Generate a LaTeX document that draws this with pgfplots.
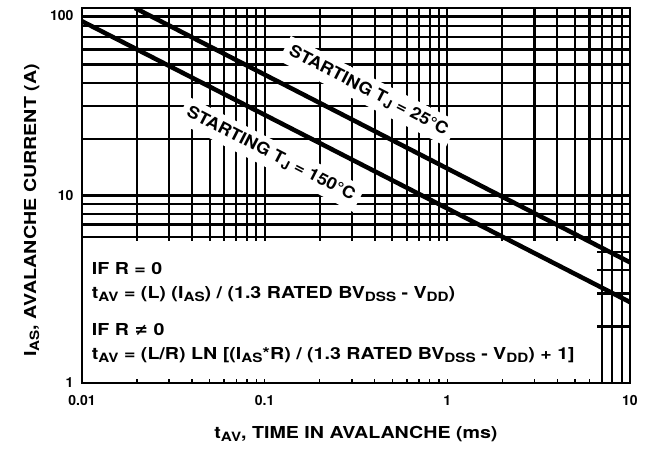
\documentclass[border=0pt]{standalone}
\usepackage{fontspec}
\setmainfont{TeX Gyre Heros}
\newfontfamily\widefont[FakeStretch=1.1]{TeX Gyre Heros}
\newfontfamily\widerfont[FakeStretch=1.19]{TeX Gyre Heros}
\newfontfamily\dejavu{DejaVu Sans}
\usepackage{pgfplots}
\pgfplotsset{compat=1.18}
\pgfdeclarelayer{whiteout}
\pgfdeclarelayer{whiteout2}
% standard layer set, with white layers below and above the ticks
\pgfplotsset{
  layers/withwhite/.define layer set={axis background,axis grid,whiteout,axis ticks,whiteout2,axis lines,axis tick labels,main,axis descriptions,axis foreground}{
    grid style={/pgfplots/on layer=axis grid},
    tick style={/pgfplots/on layer=axis ticks},
    axis line style={/pgfplots/on layer=axis lines},
    label style={/pgfplots/on layer=axis descriptions},
    legend style={/pgfplots/on layer=axis descriptions},
    title style={/pgfplots/on layer=axis descriptions},
    colorbar style={/pgfplots/on layer=axis descriptions},
    ticklabel style={/pgfplots/on layer=axis tick labels},
    axis background@ style={/pgfplots/on layer=axis background},
    3d box foreground style={/pgfplots/on layer=axis foreground},
  },
}
\newcommand{\sub}[1]{\raisebox{-0.35ex}{\fontsize{12.8}{12.8}\selectfont #1}}
\newcommand{\tfont}{\fontsize{14}{14}\selectfont\bfseries}
\newcommand{\lfont}{\widefont\fontsize{16.5}{16.5}\selectfont\bfseries}
\newcommand{\nfont}{\widerfont\fontsize{16.5}{16.5}\selectfont\bfseries}

\begin{document}
\begin{tikzpicture}
\begin{axis}[
  set layers=withwhite,
  width=548pt, height=375pt, scale only axis,
  xmode=log, ymode=log,
  xmin=0.01, xmax=10, ymin=1, ymax=100,
  xtick={0.01,0.1,1,10}, xticklabels={0.01,0.1,1,10},
  ytick={1,10,100}, yticklabels={1,10,\raisebox{-12pt}[0pt][0pt]{100}},
  minor xtick={0.02,0.03,0.04,0.05,0.06,0.07,0.08,0.09,0.2,0.3,0.4,0.5,0.6,0.7,0.8,0.9,2,3,4,5,6,7,8,9},
  minor ytick={2,3,4,5,6,7,8,9,20,30,40,50,60,70,80,90},
  grid=both,
  grid style={black, line width=2.2pt},
  axis line style={black, line width=2.4pt},
  tick style={black, line width=1.5pt},
  major tick length=4pt, minor tick length=4pt,
  tick pos=left,
  /pgf/number format/assume math mode=true,
  ticklabel style={font=\tfont},
  xticklabel style={yshift=-9pt},
  yticklabel style={xshift=-5pt},
  label style={font=\nfont},
  xlabel={t\sub{AV}, TIME IN AVALANCHE (ms)},
  ylabel={I\sub{AS}, AVALANCHE CURRENT (A)},
  xlabel style={at={(axis description cs:0.5,-0.135)}, anchor=center},
  ylabel style={at={(axis description cs:-0.092,0.46)}, anchor=center},
]
\begin{pgfonlayer}{whiteout}
  \fill[white] (axis cs:0.01,1) rectangle (axis cs:6.6,5.75);
  \node[fill=white, rotate=-27.2, inner sep=6pt, font=\lfont] at (axis cs:0.37,36)
    {STARTING T\sub{J} = 25°C};
  \node[fill=white, rotate=-27.2, inner sep=6pt, font=\lfont] at (axis cs:0.108,16.6)
    {STARTING T\sub{J} = 150°C};
  \node[anchor=base west, inner sep=0pt, font=\nfont] at (axis cs:0.0113,3.77) {IF R = 0};
  \node[anchor=base west, inner sep=0pt, font=\nfont] at (axis cs:0.0113,2.84)
    {t\sub{AV} = (L) (I\sub{AS}) / (1.3 RATED BV\sub{DSS} - V\sub{DD})};
  \node[anchor=base west, inner sep=0pt, font=\nfont] at (axis cs:0.0113,1.80)
    {IF R {\dejavu\bfseries ≠} 0};
  \node[anchor=base west, inner sep=0pt, font=\nfont] at (axis cs:0.0113,1.33)
    {t\sub{AV} = (L/R) LN [(I\sub{AS}*R) / (1.3 RATED BV\sub{DSS} - V\sub{DD}) + 1]};
\end{pgfonlayer}
\begin{pgfonlayer}{whiteout2}
  % hide the y tick stubs inside the note box
  \fill[white] ([xshift=1.3pt]axis cs:0.01,1.12) rectangle ([xshift=6pt]axis cs:0.01,5.7);
\end{pgfonlayer}
% starting Tj = 25 C
\addplot[black, line width=4.5pt] coordinates {(0.0195,100) (10,4.4)};
% starting Tj = 150 C
\addplot[black, line width=4.5pt] coordinates {(0.01,85) (10,2.7)};
\end{axis}
\pgfresetboundingbox
\path[use as bounding box] (-82pt,-65pt) rectangle (564pt,383pt);
\end{tikzpicture}
\end{document}
